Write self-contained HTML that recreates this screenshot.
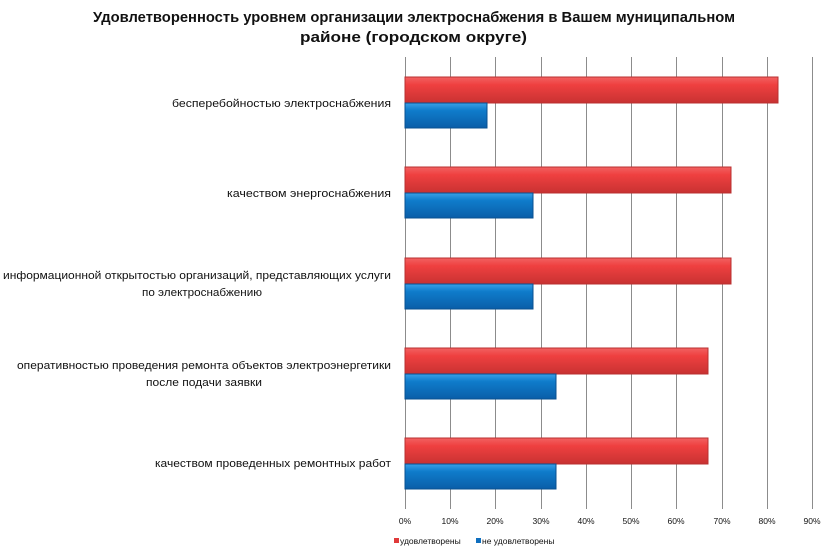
<!DOCTYPE html>
<html><head><meta charset="utf-8"><style>
body{margin:0;background:#fff;width:831px;height:550px;overflow:hidden}
svg{display:block}
text{font-family:"Liberation Sans","DejaVu Sans",sans-serif}
</style></head><body>
<svg width="831" height="550" viewBox="0 0 831 550" xmlns="http://www.w3.org/2000/svg">
<defs>
<linearGradient id="r" x1="0" y1="0" x2="0" y2="1"><stop offset="0" stop-color="#f26262"/><stop offset="0.3" stop-color="#ef4040"/><stop offset="1" stop-color="#c83232"/></linearGradient>
<linearGradient id="b" x1="0" y1="0" x2="0" y2="1"><stop offset="0" stop-color="#3aa0e6"/><stop offset="0.3" stop-color="#0f7ccb"/><stop offset="1" stop-color="#0a5ea8"/></linearGradient>
</defs>
<text x="93" y="22" font-size="14.5" font-weight="bold" fill="#111" textLength="642" lengthAdjust="spacingAndGlyphs">Удовлетворенность уровнем организации электроснабжения в Вашем муниципальном</text>
<text x="300" y="42" font-size="14.5" font-weight="bold" fill="#111" textLength="227" lengthAdjust="spacingAndGlyphs">районе (городском округе)</text>
<g stroke="#8c8c8c" stroke-width="1">
<line x1="450.5" y1="57" x2="450.5" y2="509"/><line x1="495.5" y1="57" x2="495.5" y2="509"/><line x1="541.5" y1="57" x2="541.5" y2="509"/><line x1="586.5" y1="57" x2="586.5" y2="509"/><line x1="631.5" y1="57" x2="631.5" y2="509"/><line x1="676.5" y1="57" x2="676.5" y2="509"/><line x1="722.5" y1="57" x2="722.5" y2="509"/><line x1="767.5" y1="57" x2="767.5" y2="509"/><line x1="812.5" y1="57" x2="812.5" y2="509"/>
<line x1="405.5" y1="57" x2="405.5" y2="509"/>
</g>
<g stroke-width="1">
<rect x="405" y="77" width="373" height="26" fill="url(#r)" stroke="#b83030"/>
<rect x="405" y="103" width="82" height="25" fill="url(#b)" stroke="#0a5090"/>
<rect x="405" y="167" width="326" height="26" fill="url(#r)" stroke="#b83030"/>
<rect x="405" y="193" width="128" height="25" fill="url(#b)" stroke="#0a5090"/>
<rect x="405" y="258" width="326" height="26" fill="url(#r)" stroke="#b83030"/>
<rect x="405" y="284" width="128" height="25" fill="url(#b)" stroke="#0a5090"/>
<rect x="405" y="348" width="303" height="26" fill="url(#r)" stroke="#b83030"/>
<rect x="405" y="374" width="151" height="25" fill="url(#b)" stroke="#0a5090"/>
<rect x="405" y="438" width="303" height="26" fill="url(#r)" stroke="#b83030"/>
<rect x="405" y="464" width="151" height="25" fill="url(#b)" stroke="#0a5090"/>
</g>
<g font-size="11" fill="#111" lengthAdjust="spacingAndGlyphs">
<text x="172" y="107" textLength="219" lengthAdjust="spacingAndGlyphs">бесперебойностью электроснабжения</text>
<text x="227" y="197" textLength="164" lengthAdjust="spacingAndGlyphs">качеством энергоснабжения</text>
<text x="3" y="279" textLength="388" lengthAdjust="spacingAndGlyphs">информационной открытостью организаций, представляющих услуги</text>
<text x="142" y="296" textLength="120" lengthAdjust="spacingAndGlyphs">по электроснабжению</text>
<text x="17" y="369" textLength="374" lengthAdjust="spacingAndGlyphs">оперативностью проведения  ремонта объектов  электроэнергетики</text>
<text x="146" y="386" textLength="116" lengthAdjust="spacingAndGlyphs">после подачи заявки</text>
<text x="155" y="467" textLength="236" lengthAdjust="spacingAndGlyphs">качеством проведенных ремонтных работ</text>
</g>
<g font-size="8.5" fill="#111" text-anchor="middle">
<text x="405" y="524">0%</text><text x="450" y="524">10%</text><text x="495" y="524">20%</text><text x="541" y="524">30%</text><text x="586" y="524">40%</text><text x="631" y="524">50%</text><text x="676" y="524">60%</text><text x="722" y="524">70%</text><text x="767" y="524">80%</text><text x="812" y="524">90%</text>
</g>
<rect x="394" y="538" width="5" height="5" fill="#e03a3a"/>
<text x="400" y="544" font-size="8.5" fill="#111">удовлетворены</text>
<rect x="476" y="538" width="5" height="5" fill="#0f6fbf"/>
<text x="482" y="544" font-size="8.5" fill="#111">не удовлетворены</text>
</svg>
</body></html>
